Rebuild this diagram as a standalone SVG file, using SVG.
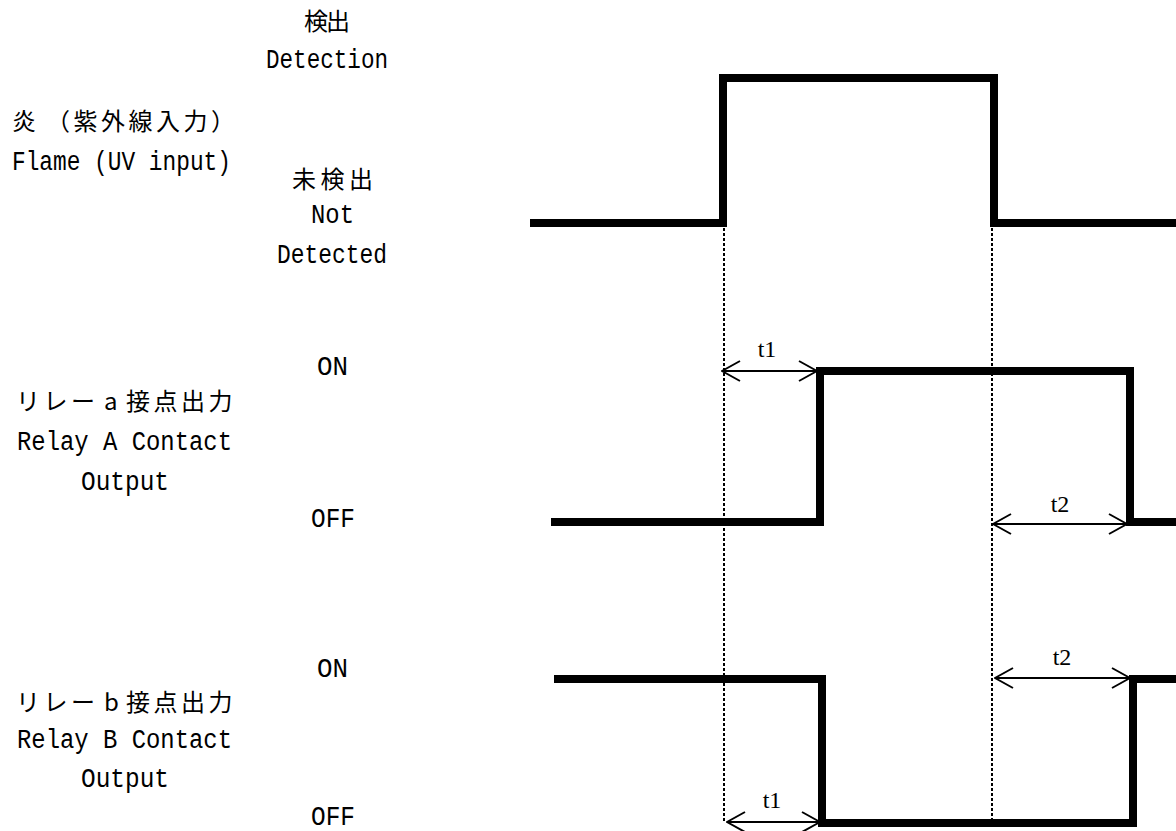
<svg xmlns="http://www.w3.org/2000/svg" width="1176" height="831" viewBox="0 0 1176 831">
<style>
.jp{font-family:"Noto Sans CJK JP","Noto Sans CJK SC",sans-serif;font-size:24px;fill:#000}
.mono{font-family:"Liberation Mono","DejaVu Sans Mono",monospace;font-size:27px;fill:#000}
.tm{font-family:"Liberation Serif","Times New Roman",serif;font-size:24px;fill:#000;text-anchor:middle}
.wave{fill:none;stroke:#000;stroke-width:8;stroke-linejoin:miter;stroke-linecap:butt}
.dot{fill:none;stroke:#000;stroke-width:2;stroke-dasharray:3 2}
.arr{fill:none;stroke:#000;stroke-width:2;marker-start:url(#v);marker-end:url(#v)}
</style>
<defs>
<marker id="v" viewBox="0 0 20 22" refX="19" refY="11" markerWidth="20" markerHeight="22" markerUnits="userSpaceOnUse" orient="auto-start-reverse">
<path d="M1 1 L19 11 L1 21" fill="none" stroke="#000" stroke-width="2"/>
</marker>
</defs>
<rect width="1176" height="831" fill="#fff"/>

<g id="flame">
<text class="jp" y="130"><tspan x="12">炎</tspan><tspan x="46" letter-spacing="3.5">（紫外線入力）</tspan></text>
<text class="mono" x="12" y="170" textLength="219" lengthAdjust="spacingAndGlyphs">Flame (UV input)</text>
<text class="jp" x="304" y="30" letter-spacing="-2">検出</text>
<text class="mono" x="266" y="68" textLength="122" lengthAdjust="spacingAndGlyphs">Detection</text>
<text class="jp" x="292" y="188" letter-spacing="4.5">未検出</text>
<text class="mono" x="311" y="223" textLength="43" lengthAdjust="spacingAndGlyphs">Not</text>
<text class="mono" x="277" y="263" textLength="110" lengthAdjust="spacingAndGlyphs">Detected</text>
<polyline class="wave" points="530,223 723,223 723,78 994,78 994,223 1176,223"/>
</g>

<g id="relayA">
<text class="jp" y="410"><tspan x="16" letter-spacing="3.5">リレー</tspan><tspan x="104">a</tspan><tspan x="126" letter-spacing="3.5">接点出力</tspan></text>
<text class="mono" x="17" y="450" textLength="215" lengthAdjust="spacingAndGlyphs">Relay A Contact</text>
<text class="mono" x="81" y="490" textLength="88" lengthAdjust="spacingAndGlyphs">Output</text>
<text class="mono" x="317" y="375" textLength="31" lengthAdjust="spacingAndGlyphs">ON</text>
<text class="mono" x="311" y="527" textLength="44" lengthAdjust="spacingAndGlyphs">OFF</text>
<polyline class="wave" points="551,522 820,522 820,371 1130,371 1130,522 1176,522"/>
</g>

<g id="relayB">
<text class="jp" y="711"><tspan x="16" letter-spacing="3.5">リレー</tspan><tspan x="104">b</tspan><tspan x="126" letter-spacing="3.5">接点出力</tspan></text>
<text class="mono" x="17" y="748" textLength="215" lengthAdjust="spacingAndGlyphs">Relay B Contact</text>
<text class="mono" x="81" y="787" textLength="88" lengthAdjust="spacingAndGlyphs">Output</text>
<text class="mono" x="317" y="677" textLength="31" lengthAdjust="spacingAndGlyphs">ON</text>
<text class="mono" x="311" y="825" textLength="44" lengthAdjust="spacingAndGlyphs">OFF</text>
<polyline class="wave" points="554,679 822,679 822,823 1133,823 1133,679 1176,679"/>
</g>

<g id="connectors">
<line class="dot" x1="724" y1="228" x2="724" y2="821"/>
<line class="dot" x1="992" y1="228" x2="992" y2="821"/>
<line class="arr" x1="722" y1="371" x2="817" y2="371"/>
<text class="tm" x="767" y="357">t1</text>
<line class="arr" x1="993" y1="524" x2="1127" y2="524"/>
<text class="tm" x="1060" y="512">t2</text>
<line class="arr" x1="995" y1="678" x2="1130" y2="678"/>
<text class="tm" x="1062" y="665">t2</text>
<line class="arr" x1="727" y1="822" x2="820" y2="822"/>
<text class="tm" x="772" y="808">t1</text>
</g>
</svg>
